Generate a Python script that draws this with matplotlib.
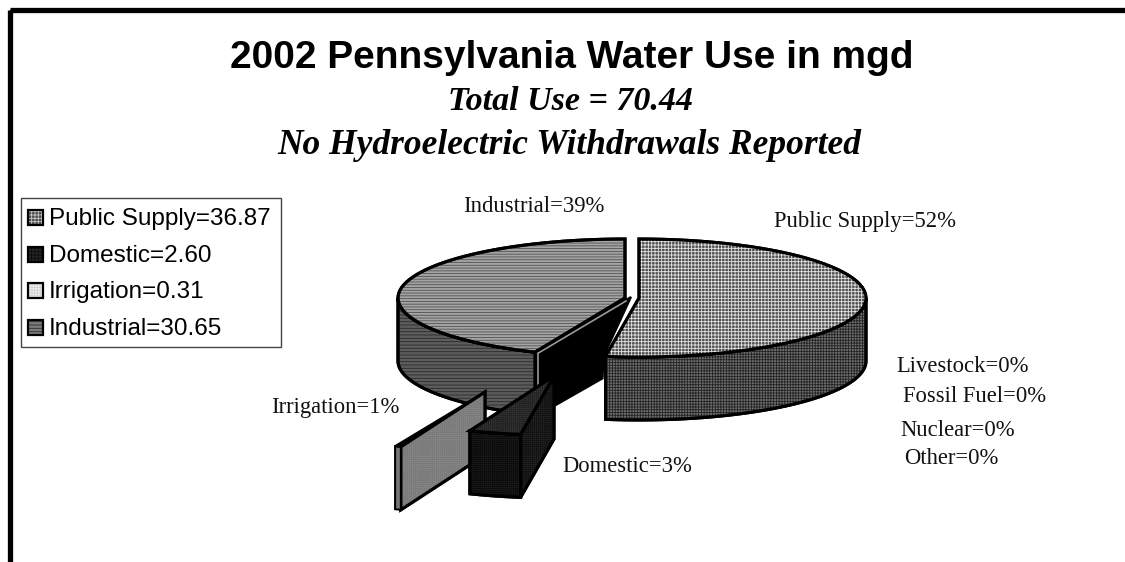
import numpy as np
import matplotlib
matplotlib.use('Agg')
import matplotlib.pyplot as plt
from matplotlib.patches import Polygon, Rectangle

# Values from the legend (mgd); slices are sized from these
categories = ['Public Supply', 'Domestic', 'Irrigation', 'Industrial']
mgd = [36.87, 2.60, 0.31, 30.65]
legend_labels = ['Public Supply=36.87', 'Domestic=2.60', 'Irrigation=0.31', 'Industrial=30.65']

plt.rcParams['hatch.linewidth'] = 0.6

W, H = 1125, 562
RX, RY, DEPTH = 227, 59, 63

fig = plt.figure(figsize=(W / 100, H / 100), dpi=100)
ax = fig.add_axes([0, 0, 1, 1])
ax.set_xlim(0, W)
ax.set_ylim(H, 0)
ax.axis('off')

# Frame, only top and left show
ax.add_patch(Rectangle((9.5, 9.5), W + 20, H + 20, fill=False, ec='black', lw=3.8, zorder=1))


def arc(cx, cy, a0, a1, n=60):
    # angles clockwise from 12 o'clock, pie seen from above
    t = np.radians(np.linspace(a0, a1, n))
    return np.column_stack([cx + RX * np.sin(t), cy - RY * np.cos(t)])


def poly(pts, face, hatch=None, edge='black', lw=2.2, z=2):
    ax.add_patch(Polygon(pts, closed=True, facecolor=face, edgecolor='black', lw=lw, zorder=z,
                         joinstyle='miter'))
    if hatch:
        ax.add_patch(Polygon(pts, closed=True, fill=False, hatch=hatch, edgecolor=edge, lw=0, zorder=z))
        ax.add_patch(Polygon(pts, closed=True, fill=False, edgecolor='black', lw=lw, zorder=z,
                             joinstyle='miter'))


def side(cx, cy, a0, a1):
    # outer rim, front half only
    lo = max(a0, 90)
    hi = min(a1, 270)
    top = arc(cx, cy, lo, hi)
    return np.vstack([top, (top + [0, DEPTH])[::-1]])


# slice angles from the values
angles = np.cumsum([0] + mgd) / sum(mgd) * 360
pub0, pub1 = angles[0], angles[1]
dom0, dom1 = angles[1], angles[2]
irr0, irr1 = angles[2], angles[3]
ind0, ind1 = angles[3], angles[4]

# Industrial
ind_c = (625, 298)
poly(side(*ind_c, ind0, ind1), '#5c5c5c', '-----', edge='#2a2a2a', z=2)
poly(np.vstack([[ind_c], arc(*ind_c, ind0, ind1)]), '#a4a4a4', '------', edge='#505050', z=3)

# cut face of Industrial, black with a thin grey edge
pub_c = (639, 298)
edge_out = arc(*ind_c, ind0, ind0, 1)[0]
pub_out = arc(*pub_c, pub1, pub1, 1)[0]
wall = [(ind_c[0] + 6, ind_c[1] - 1), (pub_out[0] - 2, pub_out[1]), (pub_out[0] - 3, pub_out[1] + 22),
        (edge_out[0] + 3, edge_out[1] + DEPTH), edge_out]
poly(wall, 'black', z=4, lw=1.5)
ax.plot([edge_out[0] + 3, ind_c[0] + 1], [edge_out[1] + 1, ind_c[1] + 3], color='#9a9a9a', lw=1.2, zorder=5)
ax.plot([edge_out[0] + 3, edge_out[0] + 3], [edge_out[1] + 1, edge_out[1] + 33], color='#9a9a9a', lw=1.2, zorder=5)
ax.plot([edge_out[0], ind_c[0]], [edge_out[1], ind_c[1]], color='black', lw=2, zorder=5)

# Public Supply
poly(side(*pub_c, pub0, pub1), '#6e6e6e', '++++++', edge='#242424', z=6)
poly(np.vstack([[pub_c], arc(*pub_c, pub0, pub1)]), '#505050', '+++++', edge='#e2e2e2', z=7)

# Irrigation, pulled out front left
irr_c = (485, 392)
irr_a = arc(*irr_c, irr0, irr0, 1)[0]
irr_b = arc(*irr_c, irr1, irr1, 1)[0]
poly([irr_c, irr_a, irr_a + [0, DEPTH], (irr_c[0], irr_c[1] + DEPTH)], '#8a8a8a', '++++++++', edge='#7a7a7a', z=8)
poly([irr_a, irr_b, irr_b + [0, DEPTH], irr_a + [0, DEPTH]], '#777777', z=9, lw=1.5)
poly([irr_c, irr_a, irr_b], 'black', z=9, lw=1.5)

# Domestic, pulled out further
dom_c = (554, 376)
dom_a = arc(*dom_c, dom0, dom0, 1)[0]
dom_b = arc(*dom_c, dom1, dom1, 1)[0]
poly([dom_a, dom_a + [0, DEPTH], (dom_c[0], dom_c[1] + DEPTH), dom_c], '#2a2a2a', '++++++++', edge='#111111', z=10)
poly(side(*dom_c, dom0, dom1), '#1e1e1e', '++++++++', edge='#0c0c0c', z=11)
poly(np.vstack([[dom_c], arc(*dom_c, dom0, dom1)]), '#3a3a3a', '++++++++', edge='#222222', z=12)

# Titles
ax.text(572, 58, '2002 Pennsylvania Water Use in mgd', fontfamily='Liberation Sans', fontweight='bold',
        fontsize=28, ha='center', va='center')
ax.text(570, 101, 'Total Use = 70.44', fontfamily='Liberation Serif', fontweight='bold', fontstyle='italic',
        fontsize=24.5, ha='center', va='center')
ax.text(569, 145, 'No Hydroelectric Withdrawals Reported', fontfamily='Liberation Serif', fontweight='bold',
        fontstyle='italic', fontsize=25.5, ha='center', va='center')

# Slice labels
slice_labels = ['Industrial=39%', 'Public Supply=52%', 'Livestock=0%', 'Fossil Fuel=0%', 'Nuclear=0%',
                'Other=0%', 'Irrigation=1%', 'Domestic=3%']
label_x = [463, 774, 896, 903, 900, 904, 271, 562]
label_y = [207, 222, 366, 396, 430, 458, 408, 467]
for s, x, y in zip(slice_labels, label_x, label_y):
    ax.text(x, y, s, fontfamily='Liberation Serif', fontsize=16.3, ha='left', va='center', color='#111111')

# Legend box, drawn by hand to keep the small square keys
ax.add_patch(Rectangle((20.5, 197.5), 260, 149, fc='white', ec='#444444', lw=1.0, zorder=13))
key_style = [('#4a4a4a', '+++++', '#c8c8c8'), ('#262626', '+++++', '#0c0c0c'),
             ('#f0f0f0', '++++++', '#d0d0d0'), ('#7a7a7a', '-----', '#303030')]
for i, (lab, st) in enumerate(zip(legend_labels, key_style)):
    y = 217 + i * 36.7
    ax.add_patch(Rectangle((28, y - 7), 15, 15, fc=st[0], ec='none', zorder=14))
    ax.add_patch(Rectangle((28, y - 7), 15, 15, fill=False, hatch=st[1], ec=st[2], lw=0, zorder=14))
    ax.add_patch(Rectangle((28, y - 7), 15, 15, fill=False, ec='black', lw=1.6, zorder=14))
    ax.text(49, y + 2, lab, fontfamily='Liberation Sans', fontsize=17.5, ha='left', va='center', zorder=14)

fig.savefig('out.png', dpi=100)
